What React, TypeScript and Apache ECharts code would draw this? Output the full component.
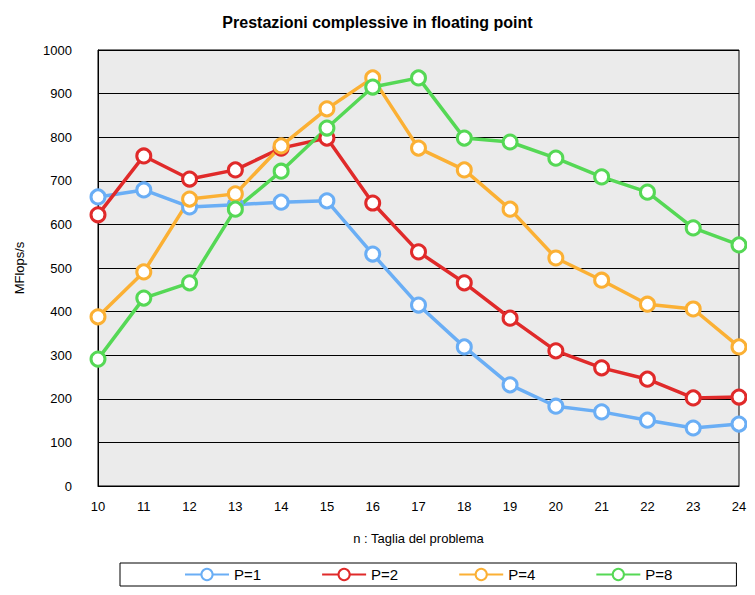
import React, { useEffect, useRef } from "react";
import * as echarts from "echarts";

const categories = ["10", "11", "12", "13", "14", "15", "16", "17", "18", "19", "20", "21", "22", "23", "24"];
const p1 = [663, 679, 640, 645, 651, 654, 532, 415, 319, 232, 183, 170, 151, 133, 142];
const p2 = [622, 757, 704, 725, 775, 798, 649, 537, 466, 385, 310, 271, 245, 202, 204];
const p4 = [388, 491, 658, 670, 780, 865, 936, 775, 725, 635, 523, 472, 417, 406, 319];
const p8 = [291, 431, 466, 635, 722, 821, 915, 936, 798, 789, 752, 709, 674, 592, 553];

const SERIES = [
    { name: "P=1", data: p1, color: "#6aaef5" },
    { name: "P=2", data: p2, color: "#e02a2a" },
    { name: "P=4", data: p4, color: "#fbb034" },
    { name: "P=8", data: p8, color: "#55d855" },
];

const FONT = "Helvetica, Arial, 'Liberation Sans', sans-serif";

const App: React.FC = () => {
    const chartRef = useRef<HTMLDivElement | null>(null);

    useEffect(() => {
        if (!chartRef.current) return;
        const chart = echarts.init(chartRef.current, null, { renderer: "svg" });
        chart.setOption({
            animation: false,
            backgroundColor: "#fff",
            textStyle: { fontFamily: FONT, color: "#000" },
            title: {
                text: "Prestazioni complessive in floating point",
                left: "center",
                top: 9,
                textStyle: { fontSize: 16, fontWeight: "bold", color: "#000", fontFamily: FONT },
            },
            grid: {
                left: 98, right: 16, top: 50, bottom: 109,
                show: true, backgroundColor: "#ebebeb", borderColor: "#000", borderWidth: 1,
            },
            legend: {
                bottom: 9,
                left: 120,
                padding: [4, 64, 4, 64],
                itemGap: 60,
                itemWidth: 44,
                itemHeight: 14,
                borderColor: "#000",
                borderWidth: 1,
                textStyle: { fontSize: 15, color: "#000", fontFamily: FONT },
                data: SERIES.map((s) => s.name),
            },
            xAxis: {
                type: "category",
                data: categories,
                boundaryGap: false,
                name: "n : Taglia del problema",
                nameLocation: "middle",
                nameGap: 46,
                nameTextStyle: { fontSize: 13, color: "#000" },
                axisLine: { lineStyle: { color: "#000" } },
                axisTick: { show: false },
                axisLabel: { fontSize: 13, color: "#000", margin: 14 },
            },
            yAxis: {
                type: "value",
                min: 0, max: 1000, interval: 100,
                name: "MFlops/s",
                nameLocation: "middle",
                nameGap: 72,
                nameTextStyle: { fontSize: 13, color: "#000" },
                axisLine: { show: true, lineStyle: { color: "#000" } },
                axisTick: { show: false },
                axisLabel: { fontSize: 13, color: "#000", margin: 26, formatter: (v: number) => String(v) },
                splitLine: { lineStyle: { color: "#000", width: 1 } },
            },
            series: SERIES.map((s) => ({
                name: s.name,
                type: "line",
                data: s.data,
                symbol: "circle",
                symbolSize: 14,
                lineStyle: { color: s.color, width: 3.5 },
                itemStyle: { color: "#fff", borderColor: s.color, borderWidth: 3 },
            })),
        });
        return () => chart.dispose();
    }, []);

    return <div ref={chartRef} style={{ width: 755, height: 595, margin: -8 }} />;
};

export default App;
